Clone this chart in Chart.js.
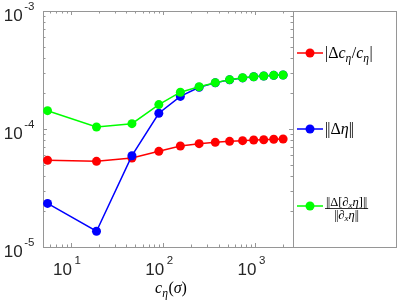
<!DOCTYPE html>
<html>
<head>
<meta charset="utf-8">
<script src="https://cdn.jsdelivr.net/npm/chart.js@4/dist/chart.umd.min.js"></script>
<style>
  html, body { margin: 0; padding: 0; background: #fff; }
  #wrap { width: 397px; height: 300px; }
</style>
</head>
<body>
<div id="wrap"><canvas id="chart" width="397" height="300"></canvas></div>
<script>
// ── Data ──
const cEta = [5.6, 19, 46, 90, 154, 246, 368, 526, 728, 960, 1233, 1583, 2000];
const relSpeedErr = [5.43e-5, 5.32e-5, 5.68e-5, 6.47e-5, 7.18e-5, 7.51e-5, 7.71e-5, 7.86e-5, 7.96e-5, 8.07e-5, 8.11e-5, 8.18e-5, 8.22e-5];
const etaErr = [2.34e-5, 1.36e-5, 5.94e-5, 1.36e-4, 1.89e-4, 2.26e-4, 2.46e-4, 2.61e-4, 2.71e-4, 2.77e-4, 2.81e-4, 2.85e-4, 2.87e-4];
const slopeErr = [1.43e-4, 1.04e-4, 1.11e-4, 1.61e-4, 2.05e-4, 2.28e-4, 2.47e-4, 2.62e-4, 2.72e-4, 2.77e-4, 2.81e-4, 2.85e-4, 2.87e-4];

const xMajor = [10, 100, 1000];
const xMajorExp = ['1', '2', '3'];
const yMajor = [1e-5, 1e-4, 1e-3];
const yMajorExp = ['-5', '-4', '-3'];

const RED = '#ff0000', BLUE = '#0000ff', GREEN = '#00ff00';
const AXIS = '#969696';
const SANS = '"Liberation Sans", Arial, sans-serif';
const SERIF = '"Liberation Serif", "DejaVu Serif", serif';

function pts(ys) {
    return cEta.map((x, i) => ({ x: x, y: ys[i] }));
}

function series(label, ys, color, order) {
    return {
        label: label,
        data: pts(ys),
        borderColor: color,
        backgroundColor: color,
        borderWidth: 1.5,
        pointRadius: 4.5,
        pointBorderWidth: 0,
        showLine: true,
        order: order
    };
}

// ── Rich text helpers (sub/superscripts) ──
function runWidth(ctx, runs) {
    let w = 0;
    runs.forEach(r => { ctx.font = r.f; w += ctx.measureText(r.t).width + (r.gap || 0); });
    return w;
}

function drawRuns(ctx, x, y, runs) {
    ctx.textBaseline = 'alphabetic';
    ctx.textAlign = 'left';
    runs.forEach(r => {
        ctx.font = r.f;
        ctx.fillText(r.t, x, y + (r.dy || 0));
        x += ctx.measureText(r.t).width + (r.gap || 0);
    });
    return x;
}

const up = s => `${s}px ${SERIF}`;
const it = s => `italic ${s}px ${SERIF}`;

// minor tick values for a log range
function logTicks(min, max) {
    const out = [];
    for (let e = Math.floor(Math.log10(min)); e <= Math.ceil(Math.log10(max)); e++) {
        for (let m = 1; m < 10; m++) {
            const v = m * Math.pow(10, e);
            if (v >= min && v <= max) out.push(v);
        }
    }
    return out;
}

// ── MATLAB-style axes box, ticks, labels and legend ──
const matlabAxes = {
    id: 'matlabAxes',
    beforeDatasetsDraw(chart) {
        const { ctx, chartArea: a, scales: { x, y } } = chart;
        ctx.save();
        ctx.strokeStyle = AXIS;
        ctx.lineWidth = 1;
        ctx.beginPath();
        logTicks(x.min, x.max).forEach(v => {
            const px = Math.round(x.getPixelForValue(v)) + 0.5;
            const len = xMajor.includes(v) ? 4 : 2.5;
            ctx.moveTo(px, a.bottom); ctx.lineTo(px, a.bottom - len);
            ctx.moveTo(px, a.top); ctx.lineTo(px, a.top + len);
        });
        logTicks(y.min, y.max).forEach(v => {
            const py = Math.round(y.getPixelForValue(v)) + 0.5;
            const len = yMajor.some(m => Math.abs(m - v) / m < 1e-9) ? 4 : 2.5;
            ctx.moveTo(a.left, py); ctx.lineTo(a.left + len, py);
            ctx.moveTo(a.right, py); ctx.lineTo(a.right - len, py);
        });
        ctx.stroke();
        ctx.strokeRect(Math.round(a.left) + 0.5, Math.round(a.top) + 0.5,
            Math.round(a.right - a.left), Math.round(a.bottom - a.top));
        ctx.restore();
    },
    afterDraw(chart) {
        const { ctx, chartArea: a, scales: { x, y } } = chart;
        ctx.save();
        ctx.fillStyle = '#262626';

        // x tick labels
        xMajor.forEach((v, i) => {
            const px = x.getPixelForValue(v);
            const end = drawRuns(ctx, px - 17.8, a.bottom + 28, [{ t: '10', f: `17px ${SANS}` }]);
            drawRuns(ctx, end + 2.5, a.bottom + 17, [{ t: xMajorExp[i], f: `11.5px ${SANS}` }]);
        });

        // y tick labels
        yMajor.forEach((v, i) => {
            const py = y.getPixelForValue(v);
            ctx.font = `11.5px ${SANS}`;
            const supW = ctx.measureText(yMajorExp[i]).width;
            const supX = 34.5 - supW;
            ctx.font = `17px ${SANS}`;
            const tenW = ctx.measureText('10').width;
            drawRuns(ctx, supX - 1.5 - tenW, py + 10, [{ t: '10', f: `17px ${SANS}` }]);
            drawRuns(ctx, supX, py - 1, [{ t: yMajorExp[i], f: `11.5px ${SANS}` }]);
        });

        // x axis title  c_eta(sigma)
        ctx.fillStyle = '#000';
        const title = [
            { t: 'c', f: it(16) },
            { t: 'η', f: it(11.5), dy: 3.5, gap: 0.5 },
            { t: '(', f: up(16) },
            { t: 'σ', f: it(16) },
            { t: ')', f: up(16) }
        ];
        const tw = runWidth(ctx, title);
        drawRuns(ctx, (a.left + a.right) / 2 + 3 - tw / 2, 293, title);

        // legend box
        const lx = Math.round(a.right) + 0.5, rx = 396.5;
        ctx.strokeStyle = AXIS;
        ctx.lineWidth = 1;
        ctx.strokeRect(lx, Math.round(a.top) + 0.5, rx - lx, Math.round(a.bottom - a.top));

        const entries = [
            { color: RED, y: 53 },
            { color: BLUE, y: 129 },
            { color: GREEN, y: 206 }
        ];
        entries.forEach(e => {
            ctx.strokeStyle = e.color;
            ctx.lineWidth = 1.5;
            ctx.beginPath();
            ctx.moveTo(297, e.y); ctx.lineTo(323, e.y);
            ctx.stroke();
            ctx.fillStyle = e.color;
            ctx.beginPath();
            ctx.arc(310, e.y, 4.5, 0, Math.PI * 2);
            ctx.fill();
        });

        ctx.fillStyle = '#000';
        drawRuns(ctx, 325, 58, [
            { t: '|', f: up(16) },
            { t: 'Δ', f: up(16) },
            { t: 'c', f: it(16) },
            { t: 'η', f: it(11.5), dy: 3.5, gap: 0.5 },
            { t: '/', f: up(16) },
            { t: 'c', f: it(16) },
            { t: 'η', f: it(11.5), dy: 3.5, gap: 0.5 },
            { t: '|', f: up(16) }
        ]);
        drawRuns(ctx, 325, 134, [
            { t: '|', f: up(16), gap: -1 },
            { t: '|', f: up(16) },
            { t: 'Δ', f: up(16) },
            { t: 'η', f: it(16) },
            { t: '|', f: up(16), gap: -1 },
            { t: '|', f: up(16) }
        ]);

        // fraction entry
        const fs = 12.5, ss = 9;
        const num = [
            { t: '|', f: up(fs), gap: -0.8 },
            { t: '|', f: up(fs) },
            { t: 'Δ', f: up(fs) },
            { t: '[', f: up(fs) },
            { t: '∂', f: up(fs) },
            { t: 'x', f: it(ss), dy: 2 },
            { t: 'η', f: it(fs) },
            { t: ']', f: up(fs) },
            { t: '|', f: up(fs), gap: -0.8 },
            { t: '|', f: up(fs) }
        ];
        const den = [
            { t: '|', f: up(fs), gap: -0.8 },
            { t: '|', f: up(fs) },
            { t: '∂', f: up(fs) },
            { t: 'x', f: it(ss), dy: 2 },
            { t: 'η', f: it(fs) },
            { t: '|', f: up(fs), gap: -0.8 },
            { t: '|', f: up(fs) }
        ];
        const nw = runWidth(ctx, num), dw = runWidth(ctx, den);
        const fw = Math.max(nw, dw) + 2, fx = 325, cx = fx + fw / 2;
        drawRuns(ctx, cx - nw / 2, 206, num);
        drawRuns(ctx, cx - dw / 2, 218.5, den);
        ctx.strokeStyle = '#000';
        ctx.lineWidth = 0.8;
        ctx.beginPath();
        ctx.moveTo(fx, 208.5); ctx.lineTo(fx + fw, 208.5);
        ctx.stroke();

        ctx.restore();
    }
};

new Chart(document.getElementById('chart'), {
    type: 'scatter',
    data: {
        datasets: [
            series('|Δc_η/c_η|', relSpeedErr, RED, 2),
            series('‖Δη‖', etaErr, BLUE, 1),
            series('‖Δ[∂xη]‖/‖∂xη‖', slopeErr, GREEN, 0)
        ]
    },
    options: {
        responsive: false,
        devicePixelRatio: 1,
        animation: false,
        layout: { padding: { left: 43, right: 104, top: 11, bottom: 53 } },
        plugins: { legend: { display: false }, tooltip: { enabled: false } },
        scales: {
            x: { type: 'logarithmic', min: 5, max: 2560, display: false },
            y: { type: 'logarithmic', min: 1e-5, max: 1e-3, display: false }
        }
    },
    plugins: [matlabAxes]
});
</script>
</body>
</html>
